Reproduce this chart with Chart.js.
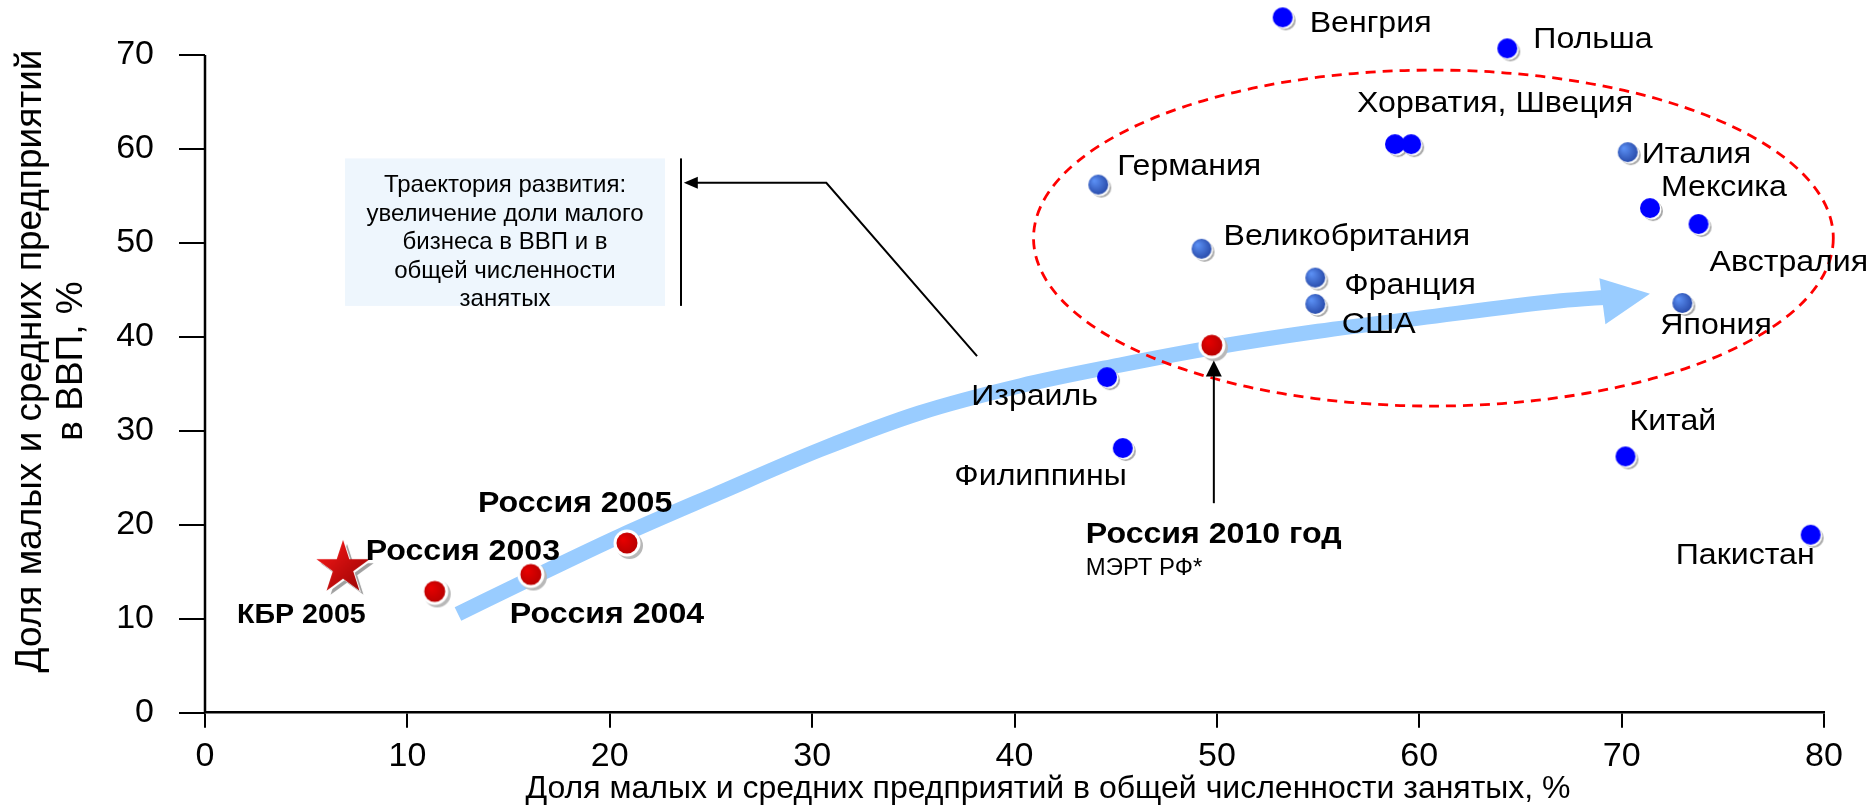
<!DOCTYPE html>
<html><head><meta charset="utf-8">
<script src="https://cdn.jsdelivr.net/npm/chart.js@4.4.1/dist/chart.umd.min.js"></script>
<style>html,body{margin:0;padding:0;background:#fff;overflow:hidden}</style>
</head><body>
<canvas id="c" width="1871" height="808"></canvas>
<script>
// ---------- DATA ----------
const countries = ['Венгрия','Польша','Хорватия','Швеция','Германия','Италия','Мексика','Австралия','Великобритания','Франция','США','Япония','Израиль','Филиппины','Китай','Пакистан'];
const countryEmployment = [53.35, 64.45, 58.9, 59.7, 44.24, 70.4, 71.5, 73.9, 49.34, 54.96, 54.96, 73.1, 44.67, 45.45, 70.29, 79.44];
const countryGDP        = [73.8, 70.5, 60.3, 60.3, 56.0, 59.45, 53.5, 51.8, 49.17, 46.1, 43.3, 43.4, 35.5, 27.96, 27.07, 18.73];
const countryLabelText  = ['Венгрия','Польша','Хорватия, Швеция','','Германия','Италия','Мексика','Австралия','Великобритания','Франция','США','Япония','Израиль','Филиппины','Китай','Пакистан'];

const russiaLabels     = ['Россия 2003','Россия 2004','Россия 2005','Россия 2010 год'];
const russiaEmployment = [11.45, 16.2, 20.95, 49.85];
const russiaGDP        = [12.7, 14.5, 17.85, 38.9];
const russiaSource     = 'МЭРТ РФ*';

const kbrLabel      = 'КБР 2005';
const kbrEmployment = [6.92];
const kbrGDP        = [15.2];

const trajectoryX = [12.5, 16.2, 20.5, 25.4, 30.4, 35.3, 40.3, 45.2, 49.9, 55.0, 60.0, 67.0, 69.5];
const trajectoryY = [10.5, 14.4, 18.8, 23.4, 28.0, 31.9, 34.8, 37.0, 38.9, 40.6, 42.0, 43.85, 44.25];

const xTicks = [0, 10, 20, 30, 40, 50, 60, 70, 80];
const yTicks = [0, 10, 20, 30, 40, 50, 60, 70];

const xTitle = 'Доля малых и средних предприятий в общей численности занятых, %';
const yTitle = ['Доля малых и средних предприятий', 'в ВВП, %'];
const noteLines = ['Траектория развития:', 'увеличение доли малого', 'бизнеса в ВВП и в', 'общей численности', 'занятых'];

// ---------- LAYOUT / STYLE (not data) ----------
const FONT = "'Liberation Sans', Arial, Helvetica, sans-serif";
const BAND = '#99CCFF';
const STRETCH = 1.07;
const shadedCountries = ['Германия','Италия','Великобритания','Франция','США','Япония'];
// label offsets in px relative to the point: [dx, dy, align]
const countryLabelPos = [[25,13,'left'],[24,-2,'left'],[-40,-34,'left'],null,[17,-12,'left'],[12,9,'left'],[9,-14,'left'],[9,45,'left'],[20,-6,'left'],[27,14,'left'],[24.5,27,'left'],[-24,29,'left'],[-11,26,'right'],[2,35,'right'],[2,-28,'left'],[2,27,'right']];
const russiaLabelPos = [[-71,-33],[-23,47],[-151,-33],[-128,196]];
const russiaSourcePos = [-128,228];
const kbrLabelPos = [-108,53];
// annotation geometry in data units
const yAxisTop = 70;
const arrowHead = {tip:[71.4,44.6], upper:[68.9,46.25], lower:[69.2,41.35]};
const ellipse = {cx:60.7, cy:50.52, rx:19.76, ry:17.88};
const noteBox = {x0:6.92, x1:22.73, y0:59.0, y1:43.3};
const noteBar = {x:23.52, y0:59.0, y1:43.3};
const noteLeader = [[38.15,37.96],[30.7,56.4],[23.66,56.4]];
const russiaArrow = {x:49.85, y0:22.3, y1:37.5};

// ---------- point images ----------
function mk(s){const c=document.createElement('canvas');c.width=c.height=s;return c;}
function dot(shaded){
  const c=mk(34), g=c.getContext('2d'), m=15, r=10;
  g.fillStyle='#a9a9a9'; g.beginPath(); g.arc(m+3,m+3,r,0,Math.PI*2); g.fill();
  g.fillStyle='#ffffff'; g.beginPath(); g.arc(m+1.5,m+1.5,r,0,Math.PI*2); g.fill();
  if(shaded){
    const gr=g.createRadialGradient(m-4,m-4,1,m,m,r*1.4);
    gr.addColorStop(0,'#5a8ef2'); gr.addColorStop(1,'#1c3a98');
    g.fillStyle=gr;
  } else g.fillStyle='#0000ff';
  g.beginPath(); g.arc(m,m,r,0,Math.PI*2); g.fill();
  return c;
}
function redDot(){
  const c=mk(40), g=c.getContext('2d'), m=18, r=10.5;
  g.fillStyle='#b8b8b8'; g.beginPath(); g.arc(m+2.5,m+2.5,r+3,0,Math.PI*2); g.fill();
  g.fillStyle='#ffffff'; g.beginPath(); g.arc(m,m,r+3,0,Math.PI*2); g.fill();
  const gr=g.createRadialGradient(m-4,m-4,1,m,m,r*1.3);
  gr.addColorStop(0,'#e60000'); gr.addColorStop(1,'#b00000');
  g.fillStyle=gr; g.beginPath(); g.arc(m,m,r,0,Math.PI*2); g.fill();
  return c;
}
function starPath(g,cx,cy,R){
  const r=R*0.382; g.beginPath();
  for(let i=0;i<10;i++){const a=-Math.PI/2+i*Math.PI/5, rr=i%2?r:R; g.lineTo(cx+rr*Math.cos(a), cy+rr*Math.sin(a));}
  g.closePath();
}
function star(){
  const c=mk(76), g=c.getContext('2d'), m=36, R=28;
  g.fillStyle='#a0a0a0'; starPath(g,m+4,m+4,R); g.fill();
  g.fillStyle='#ffffff'; starPath(g,m+1.5,m+1.5,R); g.fill();
  const gr=g.createLinearGradient(m-R,m-R,m+R,m+R);
  gr.addColorStop(0,'#ff1a1a'); gr.addColorStop(1,'#8c0000');
  g.fillStyle=gr; starPath(g,m,m,R); g.fill();
  return c;
}
const imgBright=dot(false), imgShaded=dot(true), imgRed=redDot(), imgStar=star();

function stretchText(ctx, t, x, y, align, font, sx){
  ctx.save(); ctx.font=font; ctx.textAlign=align; ctx.textBaseline='alphabetic';
  ctx.translate(x,y); ctx.scale(sx,1); ctx.fillText(t,0,0); ctx.restore();
}

// ---------- overlay plugin ----------
const overlay = {
  id:'overlay',
  beforeDatasetsDraw(chart){
    const {ctx, scales:{x,y}} = chart;
    const X=v=>x.getPixelForValue(v), Y=v=>y.getPixelForValue(v);
    ctx.save();
    ctx.fillStyle='#eef6fd';
    ctx.fillRect(X(noteBox.x0), Y(noteBox.y0), X(noteBox.x1)-X(noteBox.x0), Y(noteBox.y1)-Y(noteBox.y0));
    // y axis line (0..70 only)
    ctx.strokeStyle='#000'; ctx.lineWidth=2.5;
    ctx.beginPath(); ctx.moveTo(X(0), Y(0)); ctx.lineTo(X(0), Y(yAxisTop)); ctx.stroke();
    ctx.restore();
  },
  afterDatasetsDraw(chart){
    const {ctx, scales:{x,y}} = chart;
    const X=v=>x.getPixelForValue(v), Y=v=>y.getPixelForValue(v);
    ctx.save();
    // arrow head of trajectory
    ctx.fillStyle=BAND;
    ctx.beginPath();
    ctx.moveTo(X(arrowHead.tip[0]),Y(arrowHead.tip[1]));
    ctx.lineTo(X(arrowHead.upper[0]),Y(arrowHead.upper[1]));
    ctx.lineTo(X(arrowHead.lower[0]),Y(arrowHead.lower[1]));
    ctx.closePath(); ctx.fill();
    // dashed ellipse
    ctx.strokeStyle='#ff0000'; ctx.lineWidth=2.8; ctx.setLineDash([10,7]);
    ctx.beginPath();
    ctx.ellipse(X(ellipse.cx), Y(ellipse.cy), X(ellipse.cx+ellipse.rx)-X(ellipse.cx), Y(ellipse.cy)-Y(ellipse.cy+ellipse.ry), 0, 0, Math.PI*2);
    ctx.stroke(); ctx.setLineDash([]);
    // note text
    ctx.fillStyle='#000'; ctx.font='24px '+FONT; ctx.textAlign='center'; ctx.textBaseline='alphabetic';
    const bx=(X(noteBox.x0)+X(noteBox.x1))/2, by=Y(noteBox.y0);
    noteLines.forEach((t,i)=>ctx.fillText(t,bx,by+34+i*28.4));
    // note bar + leader
    ctx.strokeStyle='#000'; ctx.lineWidth=2;
    ctx.beginPath(); ctx.moveTo(X(noteBar.x),Y(noteBar.y0)); ctx.lineTo(X(noteBar.x),Y(noteBar.y1)); ctx.stroke();
    ctx.beginPath();
    noteLeader.forEach((p,i)=>{ const px=X(p[0]), py=Y(p[1]); if(i===noteLeader.length-1){ctx.lineTo(px+12,py);} else if(i===0) ctx.moveTo(px,py); else ctx.lineTo(px,py);});
    ctx.stroke();
    const lt=noteLeader[noteLeader.length-1], ltx=X(lt[0]), lty=Y(lt[1]);
    ctx.beginPath(); ctx.moveTo(ltx,lty); ctx.lineTo(ltx+14,lty-6); ctx.lineTo(ltx+14,lty+6); ctx.closePath(); ctx.fill();
    // Russia 2010 arrow
    const ax=X(russiaArrow.x), ay0=Y(russiaArrow.y0), ay1=Y(russiaArrow.y1);
    ctx.beginPath(); ctx.moveTo(ax,ay0); ctx.lineTo(ax,ay1+14); ctx.stroke();
    ctx.beginPath(); ctx.moveTo(ax,ay1); ctx.lineTo(ax-8,ay1+16); ctx.lineTo(ax+8,ay1+16); ctx.closePath(); ctx.fill();
    // country labels
    countries.forEach((c,i)=>{
      const p=countryLabelPos[i]; if(!p||!countryLabelText[i]) return;
      stretchText(ctx, countryLabelText[i], X(countryEmployment[i])+p[0], Y(countryGDP[i])+p[1], p[2], '30px '+FONT, STRETCH);
    });
    // Russia labels
    russiaLabels.forEach((t,i)=>{
      stretchText(ctx, t, X(russiaEmployment[i])+russiaLabelPos[i][0], Y(russiaGDP[i])+russiaLabelPos[i][1], 'left', 'bold 30px '+FONT, STRETCH);
    });
    stretchText(ctx, russiaSource, X(russiaEmployment[3])+russiaSourcePos[0], Y(russiaGDP[3])+russiaSourcePos[1], 'left', '23px '+FONT, 1.04);
    stretchText(ctx, kbrLabel, X(kbrEmployment[0])+kbrLabelPos[0], Y(kbrGDP[0])+kbrLabelPos[1], 'left', 'bold 27px '+FONT, 1.06);
    // axis titles
    ctx.fillStyle='#000'; ctx.font='32px '+FONT; ctx.textAlign='center'; ctx.textBaseline='alphabetic';
    ctx.fillText(xTitle, 1048, 798);
    ctx.save();
    ctx.translate(0, 361); ctx.rotate(-Math.PI/2);
    ctx.font='37px '+FONT; ctx.textBaseline='middle';
    ctx.fillText(yTitle[0], 0, 31);
    ctx.fillText(yTitle[1], 0, 72);
    ctx.restore();
    ctx.restore();
  }
};

const pts=(xs,ys)=>xs.map((v,i)=>({x:v,y:ys[i]}));

new Chart(document.getElementById('c'), {
  type:'scatter',
  data:{datasets:[
    {label:'trajectory', data:pts(trajectoryX,trajectoryY), showLine:true, borderColor:BAND, borderWidth:15,
     borderCapStyle:'butt', pointRadius:0, cubicInterpolationMode:'monotone', order:10},
    {label:'countries', data:pts(countryEmployment,countryGDP), order:1, clip:false,
     pointStyle:c=>shadedCountries.includes(countries[c.dataIndex])?imgShaded:imgBright, pointRadius:10},
    {label:'russia', data:pts(russiaEmployment,russiaGDP), order:0, clip:false, pointStyle:imgRed, pointRadius:12},
    {label:'kbr', data:pts(kbrEmployment,kbrGDP), order:0, clip:false, pointStyle:imgStar, pointRadius:28}
  ]},
  options:{
    responsive:false, devicePixelRatio:1, animation:false, events:[],
    layout:{autoPadding:false, padding:{top:0,right:47,left:0,bottom:0}},
    plugins:{legend:{display:false}, tooltip:{enabled:false}},
    scales:{
      x:{type:'linear', min:0, max:80,
         afterBuildTicks:s=>{s.ticks=xTicks.map(v=>({value:v}));},
         afterFit:s=>{s.height=95.3;},
         grid:{display:true, drawOnChartArea:false, drawTicks:true, tickLength:15, color:'#000', lineWidth:2},
         border:{display:true, color:'#000', width:2.5},
         ticks:{color:'#000', font:{family:FONT,size:34}, padding:9, maxRotation:0, autoSkip:false}},
      y:{type:'linear', min:0, max:75.86,
         afterBuildTicks:s=>{s.ticks=yTicks.map(v=>({value:v}));},
         afterFit:s=>{s.width=205; s.paddingTop=0; s.paddingBottom=0;},
         grid:{display:true, drawOnChartArea:false, drawTicks:true, tickLength:26, color:'#000', lineWidth:2},
         border:{display:false},
         ticks:{color:'#000', font:{family:FONT,size:34}, padding:25, autoSkip:false}}
    }
  },
  plugins:[overlay]
});
</script>
</body></html>
